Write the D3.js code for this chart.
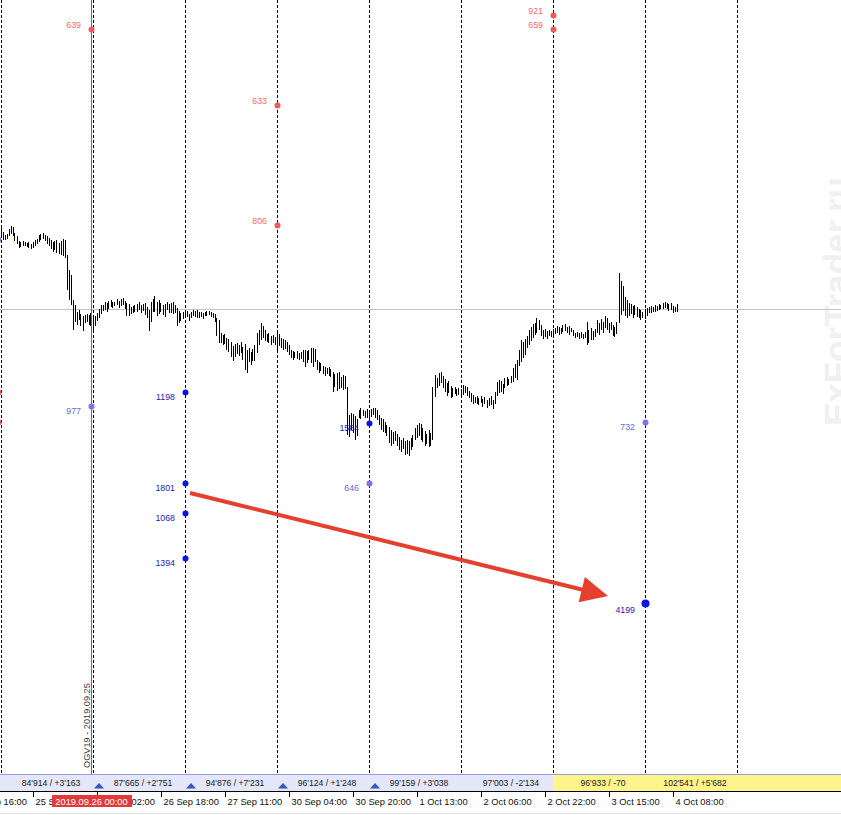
<!DOCTYPE html>
<html><head><meta charset="utf-8">
<script src="https://cdn.jsdelivr.net/npm/d3@7"></script>
<style>html,body{margin:0;padding:0;background:#fff;overflow:hidden}</style>
</head><body>
<svg id="c" width="841" height="815"></svg>
<script>
// ---- data (price in ticks) ----
const highs = [
772,768,765,766,771,774,773,767,764,759,
758,759,758,757,758,756,758,760,761,765,
766,767,765,764,762,760,758,759,760,757,
759,761,760,745,730,725,700,695,688,690,
686,684,685,686,685,687,682,684,687,691,
695,695,698,697,699,700,698,698,701,699,
701,702,699,697,696,693,694,695,696,698,
695,696,697,693,690,698,701,704,698,700,
697,695,696,698,696,697,698,695,692,689,
687,688,690,689,686,688,690,689,690,688,
688,687,688,689,689,688,687,686,682,680,
667,665,666,662,661,658,654,656,657,655,
658,653,656,650,652,648,651,655,667,670,
677,674,670,666,667,664,665,663,668,666,
662,661,660,658,655,650,649,648,649,647,
648,650,650,649,650,652,652,651,640,638,
637,634,633,632,633,631,628,626,627,628,
623,625,624,613,585,587,586,584,581,590,
592,590,589,591,590,591,592,592,590,585,
582,581,578,575,573,570,568,569,566,563,
560,562,559,560,559,562,565,572,575,577,
576,572,569,566,570,567,613,625,622,627,
628,624,621,617,619,614,612,613,611,612,
611,615,614,613,609,607,605,603,604,602,
604,601,603,600,602,604,600,608,618,620,
619,616,622,623,621,624,632,636,640,650,
660,658,661,664,670,673,676,677,682,680,
675,670,671,669,670,669,671,672,674,673,
672,675,676,673,674,672,670,667,668,667,
668,666,668,678,670,672,669,671,680,677,
681,678,684,682,677,678,675,673,678,727,
719,714,703,700,697,696,694,695,693,691,
690,688,691,692,693,694,693,695,694,696,
695,697,698,697,696,697,694,693,696];
const lows = [
762,760,760,761,764,766,764,759,756,752,
753,754,754,753,752,751,752,754,756,758,
760,761,759,756,754,751,748,750,747,746,
745,744,742,710,700,695,670,678,675,680,
674,669,677,678,675,674,667,674,679,682,
686,689,690,688,691,693,692,694,695,692,
694,695,691,684,684,686,687,688,688,690,
687,689,685,682,669,678,688,688,684,686,
688,685,683,690,687,687,686,687,674,677,
679,681,682,683,679,682,684,683,682,682,
683,681,684,684,685,683,682,678,664,657,
657,655,656,650,648,643,639,643,646,644,
647,640,630,627,638,635,639,639,647,655,
660,662,659,658,657,655,657,655,648,654,
652,650,651,648,645,642,640,642,641,640,
641,638,633,637,640,637,633,638,630,627,
629,626,624,626,624,623,608,613,609,611,
612,610,611,565,563,570,567,560,564,582,
581,584,582,582,580,583,585,582,580,575,
570,568,567,564,557,554,556,559,554,550,
548,551,545,546,544,550,553,560,562,564,
560,558,554,556,553,554,560,603,612,614,
617,612,608,604,607,602,603,606,604,605,
603,605,607,604,602,598,596,597,596,595,
597,593,596,592,594,595,591,596,604,607,
608,606,612,614,615,617,618,622,620,634,
638,642,645,652,655,659,662,665,667,670,
664,661,663,661,664,663,664,666,667,665,
666,668,669,667,665,668,664,662,663,661,
662,661,662,655,657,660,660,663,667,665,
670,667,672,670,667,670,664,663,666,677,
685,689,684,682,684,686,682,685,683,682,
680,682,681,684,687,687,688,688,689,690,
691,691,692,691,689,690,687,688,688];
const bidPrice = 691;

const dayStart = [0, 46, 92, 138, 184, 230, 276, 322, 368];
const dayOI = [84914, 87665, 94876, 96124, 99159, 97003, 96933, 102541];
const dayOIChange = [3163, 2751, 7231, 1248, 3038, -2134, -70, 5682];
const dayArrowUp = [false, true, true, true, true, false, false, false];
const dayHighlight = [false, false, false, false, false, false, true, true];

const tickIndex = [-16, 16, 48, 80, 112, 144, 176, 208, 240, 272, 304, 336];
const tickLabels = ["24 Sep 16:00", "25 Sep 09:00", "26 Sep 02:00", "26 Sep 18:00", "27 Sep 11:00",
  "30 Sep 04:00", "30 Sep 20:00", "1 Oct 13:00", "2 Oct 06:00", "2 Oct 22:00", "3 Oct 15:00", "4 Oct 08:00"];

const markerIndex = 45.25;
const markerLabel = "2019.09.26 00:00";
const seriesLabel = "OGV19 - 2019.09.25";
const watermark = "ExForTrader.ru";

// strike dots: bar index, price, label, kind
const dotIndex = [45, 138, 138, 276, 276, 45, 92, 92, 92, 92, 184, 184, 322, 322, -1.5, -1.5, -1.5];
const dotValue = [971, 895, 775, 985, 971, 594, 608, 517, 487, 442, 577, 517, 578, 397, 761, 608, 578];
const dotLabel = ["639", "633", "806", "921", "659", "977", "1198", "1801", "1068", "1394", "1584", "646", "732", "4199", "", "", ""];
const dotKind = ["call", "call", "call", "call", "call", "putLight", "put", "put", "put", "put", "put", "putLight", "putLight", "putBig", "putLight", "call", "call"];

const arrowFrom = [94.5, 507];
const arrowTo = [303.5, 404];

// ---- layout ----
const W = 841, H = 815;
const plotBottom = 774, bandBottom = 791;
const svg = d3.select("#c");
const xs = d3.scaleLinear().domain([0, 420]).range([1, 841]);
const ys = d3.scaleLinear().domain([230, 1000]).range([770, 0]);
const crisp = v => Math.floor(v) + 0.5;
const FONT = "'Liberation Sans', Arial, sans-serif";

const kindStyle = {
  call: {fill: "#F25A5A", text: "#EE6B6B", r: 3, above: true},
  put: {fill: "#0A14E6", text: "#1C1CB8", r: 3, above: false},
  putLight: {fill: "#7C72EC", text: "#6A6AD8", r: 3, above: false},
  putBig: {fill: "#0A14E6", text: "#1C1CB8", r: 4, above: false}
};

// watermark
svg.append("text").attr("transform", `translate(849,426) rotate(-90)`)
  .attr("font-family", FONT).attr("font-weight", "bold").attr("font-size", 35)
  .attr("fill", "#f0f0f0").text(watermark);

// bid line
svg.append("line").attr("x1", 0).attr("x2", W)
  .attr("y1", crisp(ys(bidPrice))).attr("y2", crisp(ys(bidPrice)))
  .attr("stroke", "#c4c4c4").attr("stroke-width", 1);

// day separators
svg.append("g").selectAll("line").data(dayStart).join("line")
  .attr("x1", d => crisp(xs(d))).attr("x2", d => crisp(xs(d)))
  .attr("y1", 0).attr("y2", plotBottom)
  .attr("stroke", "#000").attr("stroke-width", 1).attr("stroke-dasharray", "3,2");

// red vertical marker
svg.append("line").attr("x1", crisp(xs(markerIndex))).attr("x2", crisp(xs(markerIndex)))
  .attr("y1", 0).attr("y2", bandBottom).attr("stroke", "#E03A3A").attr("stroke-width", 1);

// bars
svg.append("g").selectAll("rect").data(highs).join("rect")
  .attr("x", (d, i) => Math.floor(xs(i))).attr("width", 1)
  .attr("y", d => Math.round(ys(d)))
  .attr("height", (d, i) => Math.max(1, Math.round(ys(lows[i])) - Math.round(ys(d))))
  .attr("fill", "#000");

// dots
const dots = dotIndex.map((d, k) => ({i: d, v: dotValue[k], label: dotLabel[k], st: kindStyle[dotKind[k]]}));
const dg = svg.append("g");
dg.selectAll("circle").data(dots).join("circle")
  .attr("cx", d => xs(d.i) + 0.5).attr("cy", d => ys(d.v) + 0.5)
  .attr("r", d => d.st.r).attr("fill", d => d.st.fill);
dg.selectAll("text").data(dots.filter(d => d.label)).join("text")
  .attr("x", d => xs(d.i) - 10).attr("y", d => ys(d.v) + (d.st.above ? -1 : (d.st.r > 3 ? 10 : 8)))
  .attr("text-anchor", "end").attr("font-family", FONT).attr("font-size", 8.8)
  .attr("fill", d => d.st.text).text(d => d.label);

// arrow
{
  const x1 = xs(arrowFrom[0]), y1 = ys(arrowFrom[1]);
  const x2 = xs(arrowTo[0]), y2 = ys(arrowTo[1]);
  const dx = x2 - x1, dy = y2 - y1, L = Math.hypot(dx, dy);
  const ux = dx / L, uy = dy / L, nx = -uy, ny = ux;
  const hl = 27, hw = 13;
  const bx = x2 - ux * hl, by = y2 - uy * hl;
  svg.append("line").attr("x1", x1).attr("y1", y1).attr("x2", bx + ux * 2).attr("y2", by + uy * 2)
    .attr("stroke", "#E5402E").attr("stroke-width", 4);
  svg.append("path").attr("d", `M${x2},${y2}L${bx + nx * hw},${by + ny * hw}L${bx - nx * hw},${by - ny * hw}Z`)
    .attr("fill", "#E5402E");
}

// rotated series label
svg.append("text").attr("transform", `translate(90,768) rotate(-90)`)
  .attr("font-family", FONT).attr("font-size", 9.2).attr("fill", "#3a3a3a").text(seriesLabel);

// bottom band
const fmt = d3.formatLocale({decimal: ".", thousands: "'", grouping: [3], currency: ["", ""], minus: "-"});
const fOI = fmt.format(","), fCh = fmt.format("+,");
const segs = dayOI.map((d, k) => ({k, oi: d, ch: dayOIChange[k], up: dayArrowUp[k], hl: dayHighlight[k]}));
const bg = svg.append("g");
bg.append("rect").attr("x", 0).attr("y", plotBottom).attr("width", xs(0)).attr("height", bandBottom - plotBottom).attr("fill", "#E4E7F8");
bg.selectAll("rect.seg").data(segs).join("rect").attr("class", "seg")
  .attr("x", d => xs(dayStart[d.k])).attr("y", plotBottom)
  .attr("width", d => d.k === segs.length - 1 ? W - xs(dayStart[d.k]) : xs(dayStart[d.k + 1]) - xs(dayStart[d.k]))
  .attr("height", bandBottom - plotBottom)
  .attr("fill", d => d.hl ? "#FFF48C" : "#E4E7F8");
bg.append("line").attr("x1", 0).attr("x2", W).attr("y1", plotBottom + 0.5).attr("y2", plotBottom + 0.5)
  .attr("stroke", "#9C9CE4");
bg.selectAll("text").data(segs).join("text")
  .attr("x", d => (xs(dayStart[d.k]) + xs(dayStart[d.k + 1])) / 2 + 4).attr("y", 786)
  .attr("text-anchor", "middle").attr("font-family", FONT).attr("font-size", 8.6).attr("fill", "#1a1a1a")
  .text(d => `${fOI(d.oi)} / ${fCh(d.ch)}`);
bg.selectAll("path").data(segs.filter(d => d.up)).join("path")
  .attr("transform", d => `translate(${xs(dayStart[d.k]) + 6},786)`)
  .attr("d", "M-5,2.5L0,-3L5,2.5Z").attr("fill", "#3656C8");
svg.append("line").attr("x1", 0).attr("x2", W).attr("y1", bandBottom + 0.5).attr("y2", bandBottom + 0.5)
  .attr("stroke", "#000");

// time axis
const ax = svg.append("g").attr("transform", `translate(0,${bandBottom + 1})`)
  .call(d3.axisBottom(xs).tickValues(tickIndex).tickFormat((d, k) => tickLabels[k]).tickSize(5).tickSizeOuter(0));
ax.select(".domain").remove();
ax.selectAll(".tick line").attr("stroke", "#000");
ax.selectAll(".tick text").attr("text-anchor", "start").attr("x", 2).attr("y", 6)
  .attr("font-family", FONT).attr("font-size", 9.3).attr("fill", "#111");
svg.append("line").attr("x1", 0).attr("x2", W).attr("y1", 813.5).attr("y2", 813.5).attr("stroke", "#e4e4e4");

// red time marker label
{
  const mx = xs(markerIndex);
  const mg = svg.append("g");
  mg.append("rect").attr("x", Math.round(mx - 40)).attr("y", 795).attr("width", 80).attr("height", 12)
    .attr("fill", "#E23A3A");
  mg.append("text").attr("x", mx).attr("y", 805).attr("text-anchor", "middle")
    .attr("font-family", FONT).attr("font-size", 9.3).attr("fill", "#fff").text(markerLabel);
}
</script>
</body></html>
